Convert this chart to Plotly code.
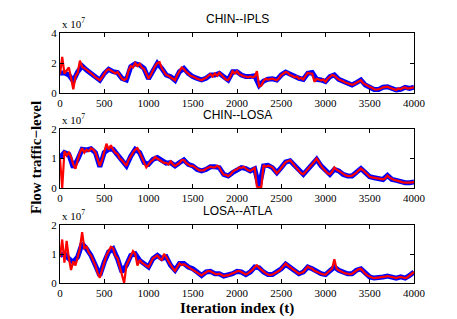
import plotly.graph_objects as go

# ---------------- data (units of 1e7) ----------------
titles = ["CHIN--IPLS", "CHIN--LOSA", "LOSA--ATLA"]
x_ticks = [0, 500, 1000, 1500, 2000, 2500, 3000, 3500, 4000]
y_ticks = [[0, 2, 4], [0, 1, 2], [0, 1, 2]]
y_ranges = [[0, 4], [0, 2], [0, 2]]

t_blue = list(range(0, 4001, 50))
t_red = list(range(0, 4001, 25))

blue_ipls = [
    1.31, 1.35, 1.2, 0.8,
    1.42, 1.8, 1.53, 1.31,
    1.09, 0.85, 1.3, 1.58,
    1.42, 1.36, 0.98, 0.87,
    1.76, 1.95, 1.87, 1.64,
    0.95, 1.53, 1.98, 1.64,
    1.2, 1.09, 0.85, 1.42,
    1.64, 1.31, 1.09, 0.98,
    0.87, 0.98, 1.2, 1.2,
    1.31, 1.09, 0.87, 1.42,
    1.42, 1.2, 1.1, 1.1,
    1.15, 0.5, 0.8, 0.92,
    0.95, 0.87, 1.2, 1.4,
    1.25, 1.09, 0.98, 0.91,
    1.31, 1.36, 0.91, 0.87,
    0.76, 1.09, 1.2, 0.91,
    0.76, 0.64, 0.53, 0.69,
    0.87, 0.53, 0.42, 0.24,
    0.24, 0.38, 0.42, 0.31,
    0.2, 0.24, 0.38, 0.31,
    0.38,
]
red_ipls = [
    1.25, 2.4, 1.3, 1.5, 1.7, 1.0, 0.25, 1.1,
    1.35, 2.15, 1.75, 1.65, 1.55, 1.4, 1.35, 1.2,
    1.05, 0.95, 0.85, 1.05, 1.3, 1.5, 1.6, 1.5,
    1.45, 1.3, 1.4, 1.15, 0.95, 0.85, 0.95, 1.5,
    1.8, 1.7, 2.0, 1.8, 1.95, 1.7, 1.6, 1.3,
    0.95, 1.2, 1.55, 1.8, 2.0, 2.05, 1.65, 1.4,
    1.2, 1.15, 1.05, 0.95, 0.85, 1.2, 1.45, 1.7,
    1.6, 1.4, 1.3, 1.15, 1.1, 1.0, 0.95, 0.9,
    0.85, 0.95, 1.0, 1.15, 1.25, 1.1, 1.3, 1.15,
    1.35, 1.2, 1.05, 0.9, 0.85, 1.1, 1.45, 1.3,
    1.45, 1.25, 1.2, 1.1, 1.1, 1.05, 1.1, 1.05,
    1.1, 1.45, 0.45, 0.5, 0.8, 0.95, 0.9, 0.95,
    0.95, 0.9, 0.85, 1.0, 1.2, 1.3, 1.4, 1.35,
    1.2, 1.15, 1.05, 1.1, 0.95, 1.0, 0.9, 1.15,
    1.35, 1.3, 1.3, 0.75, 0.95, 0.9, 0.85, 0.9,
    0.75, 0.95, 1.1, 1.2, 1.15, 1.0, 0.9, 0.85,
    0.75, 0.7, 0.65, 0.6, 0.55, 0.6, 0.7, 0.8,
    0.85, 0.65, 0.55, 0.5, 0.4, 0.35, 0.25, 0.22,
    0.25, 0.3, 0.38, 0.4, 0.42, 0.35, 0.3, 0.25,
    0.2, 0.3, 0.25, 0.35, 0.38, 0.3, 0.32, 0.35,
    0.38,
]

blue_losa = [
    1.03, 1.2, 1.14, 0.7,
    0.97, 1.31, 1.29, 1.33,
    1.2, 0.72, 1.2, 1.31,
    1.31, 1.14, 0.97, 0.75,
    1.08, 1.31, 1.2, 0.86,
    0.8, 0.97, 1.03, 0.92,
    0.84, 0.86, 0.75, 0.86,
    0.95, 0.8, 0.75, 0.63,
    0.58, 0.63, 0.72, 0.72,
    0.69, 0.46, 0.41, 0.52,
    0.63, 0.69, 0.66, 0.58,
    0.65, 0.03, 0.75, 0.77,
    0.69, 0.52, 0.69, 0.88,
    0.92, 0.75, 0.58, 0.46,
    0.63, 0.8, 0.97, 0.75,
    0.58, 0.46, 0.63, 0.58,
    0.46, 0.41, 0.41, 0.52,
    0.66, 0.52, 0.38, 0.35,
    0.32, 0.29, 0.43, 0.29,
    0.26, 0.2, 0.18, 0.18,
    0.2,
]
red_losa = [
    1.0, 0.0, 1.25, 1.1, 1.2, 1.05, 0.8, 0.65,
    0.95, 1.2, 1.35, 1.2, 1.3, 1.25, 1.35, 1.3,
    1.2, 1.0, 0.75, 0.95, 1.2, 1.5, 1.3, 1.45,
    1.3, 1.2, 1.15, 1.0, 0.95, 0.85, 0.75, 0.95,
    1.1, 1.2, 1.3, 1.35, 1.2, 1.05, 0.85, 0.7,
    0.8, 0.9, 0.95, 1.05, 1.0, 0.95, 0.9, 0.85,
    0.85, 0.8, 0.9, 0.8, 0.75, 0.8, 0.85, 0.95,
    0.95, 0.85, 0.8, 0.75, 0.75, 0.7, 0.65, 0.6,
    0.6, 0.6, 0.65, 0.7, 0.72, 0.7, 0.7, 0.75,
    0.7, 0.55, 0.45, 0.45, 0.4, 0.45, 0.55, 0.6,
    0.63, 0.7, 0.68, 0.72, 0.65, 0.6, 0.58, 0.62,
    0.68, 0.05, 0.02, 0.04, 0.78, 0.72, 0.76, 0.74,
    0.7, 0.6, 0.5, 0.58, 0.7, 0.78, 0.88, 0.9,
    0.94, 0.85, 0.75, 0.65, 0.58, 0.5, 0.47, 0.55,
    0.63, 0.72, 0.8, 0.9, 1.0, 0.85, 0.75, 0.65,
    0.58, 0.5, 0.47, 0.55, 0.7, 0.62, 0.58, 0.52,
    0.46, 0.43, 0.41, 0.4, 0.42, 0.46, 0.52, 0.6,
    0.66, 0.6, 0.52, 0.45, 0.38, 0.36, 0.35, 0.33,
    0.32, 0.3, 0.29, 0.33, 0.42, 0.35, 0.3, 0.27,
    0.26, 0.23, 0.2, 0.19, 0.18, 0.17, 0.18, 0.19,
    0.2,
]

blue_atla = [
    0.95, 1.01, 0.84, 0.72,
    0.9, 1.36, 1.18, 0.95,
    0.61, 0.26, 0.72, 1.07,
    1.18, 0.84, 0.38, 0.61,
    0.95, 1.01, 0.78, 0.67,
    0.55, 0.84, 0.95, 0.84,
    0.9, 0.61, 0.44, 0.67,
    0.67, 0.55, 0.49, 0.38,
    0.26, 0.38, 0.4, 0.32,
    0.32, 0.24, 0.26, 0.32,
    0.4, 0.38, 0.29, 0.38,
    0.55, 0.52, 0.38, 0.29,
    0.29, 0.38, 0.49, 0.65,
    0.55, 0.44, 0.32, 0.38,
    0.55, 0.49, 0.38, 0.32,
    0.29, 0.44, 0.55, 0.44,
    0.36, 0.32, 0.32, 0.44,
    0.49, 0.32, 0.21, 0.17,
    0.17, 0.21, 0.24, 0.21,
    0.17, 0.21, 0.17, 0.26,
    0.38,
]
red_atla = [
    0.9, 1.5, 0.7, 1.45, 0.85, 0.45, 0.75, 0.6,
    0.9, 1.2, 1.75, 1.2, 1.25, 1.05, 0.95, 0.8,
    0.6, 0.35, 0.18, 0.45, 0.75, 0.95, 1.1, 1.25,
    1.2, 0.95, 0.85, 0.55, 0.35, 0.0, 0.6, 0.75,
    0.95, 1.1, 1.0, 0.6, 0.8, 0.7, 0.65, 0.6,
    0.55, 0.7, 0.85, 0.9, 0.95, 0.85, 0.8, 1.0,
    0.9, 0.75, 0.6, 0.5, 0.42, 0.55, 0.68, 0.62,
    0.65, 0.6, 0.55, 0.5, 0.48, 0.42, 0.38, 0.3,
    0.26, 0.32, 0.38, 0.42, 0.4, 0.35, 0.32, 0.3,
    0.32, 0.28, 0.24, 0.26, 0.26, 0.3, 0.32, 0.36,
    0.4, 0.42, 0.38, 0.33, 0.29, 0.33, 0.38, 0.45,
    0.55, 0.61, 0.52, 0.45, 0.38, 0.33, 0.29, 0.27,
    0.29, 0.33, 0.38, 0.42, 0.49, 0.58, 0.67, 0.6,
    0.55, 0.5, 0.44, 0.38, 0.32, 0.35, 0.38, 0.48,
    0.57, 0.52, 0.49, 0.42, 0.38, 0.35, 0.32, 0.3,
    0.29, 0.36, 0.44, 0.5, 0.82, 0.5, 0.44, 0.4,
    0.36, 0.33, 0.32, 0.3, 0.32, 0.38, 0.44, 0.48,
    0.49, 0.4, 0.32, 0.26, 0.21, 0.19, 0.17, 0.18,
    0.17, 0.19, 0.21, 0.22, 0.24, 0.22, 0.21, 0.19,
    0.17, 0.2, 0.21, 0.19, 0.17, 0.2, 0.26, 0.3,
    0.38,
]

blues = [blue_ipls, blue_losa, blue_atla]
reds = [red_ipls, red_losa, red_atla]

# ---------------- figure ----------------
W, H = 457, 319
ML, MR, MT, MB = 60, 43, 33, 36
plot_h = H - MT - MB  # 250
# pixel top/bottom of each panel
panels_px = [(33, 93), (129, 188), (225, 283)]


def py2paper(py):
    return (H - MB - py) / plot_h


fig = go.Figure()
serif = "Liberation Serif, Times New Roman, serif"
sans = "Liberation Sans, Arial, sans-serif"

layout = dict(
    width=W, height=H,
    margin=dict(l=ML, r=MR, t=MT, b=MB),
    paper_bgcolor="white", plot_bgcolor="white",
    showlegend=False,
    annotations=[],
)

for i in range(3):
    sfx = "" if i == 0 else str(i + 1)
    xa = "x" + sfx
    ya = "y" + sfx
    fig.add_trace(go.Scatter(x=t_blue, y=blues[i], mode="lines",
                             line=dict(color="#0000ff", width=5),
                             xaxis=xa, yaxis=ya, hoverinfo="skip"))
    fig.add_trace(go.Scatter(x=t_red, y=reds[i], mode="lines",
                             line=dict(color="#ff0000", width=2.2),
                             xaxis=xa, yaxis=ya, hoverinfo="skip"))
    top, bot = panels_px[i]
    axcommon = dict(showline=True, linecolor="black", linewidth=1, mirror="ticks",
                    ticks="inside", ticklen=4, tickcolor="black", showgrid=False,
                    zeroline=False, tickfont=dict(family=serif, size=11, color="black"))
    layout["xaxis" + sfx] = dict(axcommon, domain=[0, 1], range=[0, 4000],
                                 tickvals=x_ticks, anchor=ya)
    layout["yaxis" + sfx] = dict(axcommon, domain=[py2paper(bot), py2paper(top)],
                                 range=y_ranges[i], tickvals=y_ticks[i], anchor=xa)
    layout["annotations"].append(dict(
        text=titles[i], xref="paper", yref="paper", x=0.5, y=py2paper(top - 5),
        xanchor="center", yanchor="bottom", showarrow=False,
        font=dict(family=sans, size=12, color="black")))
    layout["annotations"].append(dict(
        text="x 10<sup>7</sup>", xref="paper", yref="paper", x=0, y=py2paper(top - 1),
        xanchor="left", yanchor="bottom", showarrow=False,
        font=dict(family=serif, size=11, color="black")))

layout["annotations"].append(dict(
    text="<b>Flow traffic\u2212level</b>", xref="paper", yref="paper",
    x=(36 - ML) / (W - ML - MR), y=py2paper(158), xanchor="center", yanchor="middle",
    textangle=-90, showarrow=False, font=dict(family=serif, size=15, color="black")))
layout["annotations"].append(dict(
    text="<b>Iteration index (t)</b>", xref="paper", yref="paper",
    x=0.5, y=py2paper(308), xanchor="center", yanchor="middle",
    showarrow=False, font=dict(family=serif, size=15, color="black")))

fig.update_layout(**layout)
fig.write_html("out.html", config={"displayModeBar": False},
               post_script="document.body.style.margin='0';document.body.style.overflow='hidden';")
